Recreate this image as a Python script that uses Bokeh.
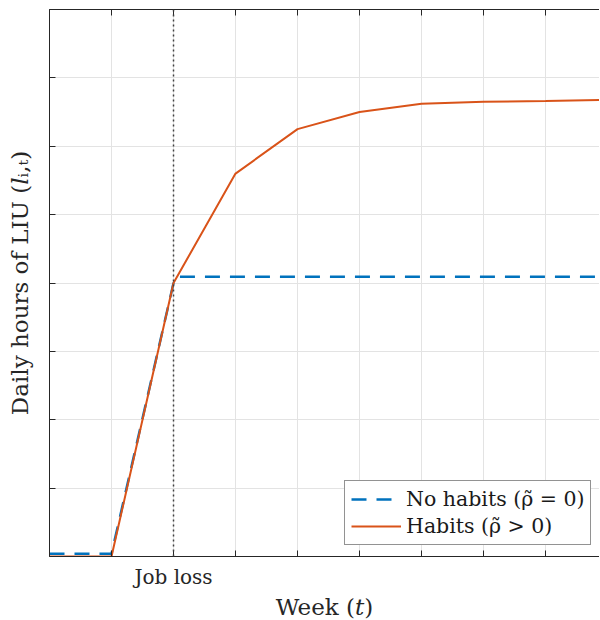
from bokeh.plotting import figure
from bokeh.models import (FixedTicker, Legend, LegendItem, Span, LinearAxis, Range1d, Title)
from bokeh.embed import file_html
from bokeh.resources import INLINE

weeks = [0, 1, 2, 3, 4, 5, 6, 7, 8, 9]
no_habits = [0.04, 0.04, 4.0, 4.09, 4.09, 4.09, 4.09, 4.09, 4.09, 4.09]
no_habits_x = [0, 1, 2, 2.05, 3, 4, 5, 6, 7, 9]
habits = [0.0, 0.0, 4.0, 5.6, 6.25, 6.5, 6.62, 6.65, 6.66, 6.68]
job_loss_week = 2
x_ticks = [0, 1, 2, 3, 4, 5, 6, 7, 8, 9]
y_ticks = [0, 1, 2, 3, 4, 5, 6, 7, 8]
x_tick_labels = {2: "Job loss"}

BLUE = "#0072BD"
ORANGE = "#D95319"
AX = "#262626"
FONT = "DejaVu Serif"

p = figure(width=599, height=619, output_backend="svg", toolbar_location=None,
           x_range=Range1d(0, 8.87), y_range=Range1d(0, 8),
           min_border_left=49, min_border_right=0, min_border_top=9,
           min_border_bottom=0)
p.outline_line_color = None

p.xaxis.ticker = FixedTicker(ticks=x_ticks)
p.xaxis.major_label_overrides = {t: x_tick_labels.get(t, "") for t in x_ticks}
p.yaxis.ticker = FixedTicker(ticks=y_ticks)
p.yaxis.major_label_overrides = {t: "" for t in y_ticks}
for ax in (p.xaxis[0], p.yaxis[0]):
    ax.axis_line_color = AX
    ax.major_tick_line_color = AX
    ax.major_tick_in = 6
    ax.major_tick_out = 0
    ax.minor_tick_line_color = None
    ax.major_label_text_font = FONT
    ax.major_label_text_color = AX
    ax.major_label_text_font_size = "20px"
    ax.axis_label_text_font = FONT
    ax.axis_label_text_font_style = "normal"
    ax.axis_label_text_color = AX
    ax.axis_label_text_font_size = "23px"
p.yaxis.axis_label = "Daily hours of LIU (\U0001D459\u1D62,\u209C)"
p.xaxis.major_label_standoff = 8
p.yaxis.axis_label_standoff = 17
p.yaxis.major_label_standoff = 0

p.add_layout(Title(text="Week (\U0001D461)", align="center", text_font=FONT,
                   text_font_size="23px", text_font_style="normal", text_color=AX,
                   standoff=0, offset=9), "below")

top = LinearAxis(ticker=FixedTicker(ticks=x_ticks), axis_line_color=AX,
                 major_tick_line_color=AX, major_tick_in=6, major_tick_out=0,
                 minor_tick_line_color=None, major_label_text_font_size="0px")
top.major_label_overrides = {t: "" for t in x_ticks}
p.add_layout(top, "above")

p.xgrid.ticker = FixedTicker(ticks=x_ticks)
p.ygrid.ticker = FixedTicker(ticks=y_ticks)
p.grid.grid_line_color = "#e3e3e3"
p.grid.grid_line_width = 1

p.add_layout(Span(location=job_loss_week, dimension="height", line_color="#404040",
                  line_dash="2 3", line_width=1.5))

r1 = p.line(no_habits_x, no_habits, line_color=BLUE, line_width=2.5, line_dash="15 10")
r2 = p.line(weeks, habits, line_color=ORANGE, line_width=2)

legend = Legend(items=[LegendItem(label="No habits (\u03C1\u0303 = 0)", renderers=[r1]),
                       LegendItem(label="Habits (\u03C1\u0303 > 0)", renderers=[r2])],
                location=(295, 11), label_text_font=FONT, label_text_font_size="20.5px",
                label_text_color="#1a1a1a", border_line_color=AX, border_line_width=1,
                background_fill_color="white", background_fill_alpha=1,
                glyph_width=50, glyph_height=24, label_height=24, spacing=3,
                padding=6, margin=0, label_standoff=5)
p.add_layout(legend, "center")

open("out.html", "w").write(file_html(p, INLINE))
